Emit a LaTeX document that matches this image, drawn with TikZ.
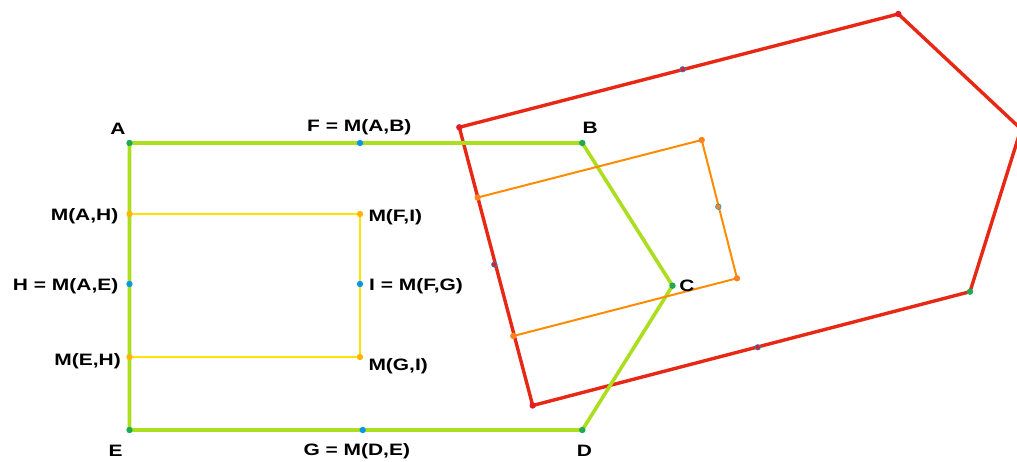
\documentclass[tikz,border=0pt]{standalone}
\usepackage{fontspec}
\newfontfamily\lblfont{Liberation Sans}[FakeStretch=1.27]
\definecolor{polygreen}{RGB}{172,222,32}
\definecolor{polyred}{RGB}{230,40,20}
\definecolor{rectyellow}{RGB}{255,228,0}
\definecolor{rectorange}{RGB}{255,140,0}
\definecolor{dotgreen}{RGB}{30,170,80}
\definecolor{dotblue}{RGB}{10,150,230}
\definecolor{dotgold}{RGB}{255,180,0}
\definecolor{dotorange}{RGB}{255,130,30}
\definecolor{dotred}{RGB}{225,30,40}
\begin{document}
\begin{tikzpicture}[x=1pt,y=-1pt,
  greenline/.style={draw=polygreen,line width=3.6pt,line join=round},
  redline/.style={draw=polyred,line width=3.4pt,line join=round},
  yellowline/.style={draw=rectyellow,line width=2.2pt},
  orangeline/.style={draw=rectorange,line width=2pt},
  dotg/.style={fill=dotgreen},
  dotb/.style={fill=dotblue},
  doty/.style={fill=dotgold},
  doto/.style={fill=dotorange},
  dotr/.style={fill=dotred},
  dotrb/.style={fill=dotred,draw=dotblue,line width=0.6pt},
  dotob/.style={fill=dotorange,draw=dotblue,line width=0.6pt},
  lbl/.style={inner sep=0pt,font=\lblfont\bfseries\fontsize{16.5}{18}\selectfont,text=black}]
\useasboundingbox (0,0) rectangle (1017,462);
\clip (0,0) rectangle (1017,462);
% green polygon
\coordinate (A) at (129.5,143);
\coordinate (B) at (582.3,143);
\coordinate (C) at (672.5,285.7);
\coordinate (D) at (582.3,430);
\coordinate (E) at (129.5,430);
\coordinate (F) at (360,143);
\coordinate (G) at (362.7,430);
\coordinate (H) at (129.5,284);
\coordinate (I) at (360,284);
\coordinate (MAH) at (129.5,214);
\coordinate (MEH) at (129.5,357);
\coordinate (MFI) at (360,214);
\coordinate (MGI) at (360,357);
% red polygon
\coordinate (R1) at (459.3,127.3);
\coordinate (R2) at (898.3,14);
\coordinate (R3) at (1021,129);
\coordinate (R4) at (970,291.7);
\coordinate (R5) at (532.7,405.5);
\coordinate (RM1) at (682.7,69.3);
\coordinate (RM2) at (494.3,264.5);
\coordinate (RM3) at (757.7,347.3);
% orange rectangle
\coordinate (O1) at (477.7,197.5);
\coordinate (O2) at (701.7,140);
\coordinate (O3) at (737,278.3);
\coordinate (O4) at (513.3,336);
\coordinate (OM) at (718.3,206.7);

\draw[redline] (R1) -- (R2) -- (R3) -- (R4) -- (R5) -- cycle;
\draw[greenline] (A) -- (B) -- (C) -- (D) -- (E) -- cycle;
\draw[yellowline] (MAH) -- (MFI) -- (MGI) -- (MEH);
\draw[orangeline] (O1) -- (O2) -- (O3) -- (O4);

% dots
\foreach \p in {A,B,C,D,E,R4} \fill[dotg] (\p) circle (3.2pt);
\foreach \p in {F,G,H,I} \fill[dotb] (\p) circle (3.2pt);
\foreach \p in {MAH,MEH,MFI,MGI} \fill[doty] (\p) circle (3.2pt);
\foreach \p in {O1,O2,O3,O4} \fill[doto] (\p) circle (3.2pt);
\foreach \p in {R1,R2,R5} \fill[dotr] (\p) circle (3.2pt);
\foreach \p in {RM1,RM2,RM3} \filldraw[dotrb] (\p) circle (2.8pt);
\filldraw[dotob] (OM) circle (2.8pt);

% labels
\node[lbl,anchor=base] (lA) at (118,135) {A};
\node[lbl,anchor=base west] (lF) at (307,131.7) {F = M(A,B)};
\node[lbl,anchor=base] (lB) at (590.3,133.3) {B};
\node[lbl,anchor=base] (lC) at (687,291.7) {C};
\node[lbl,anchor=base] (lD) at (584.5,456.5) {D};
\node[lbl,anchor=base] (lE) at (115.5,456.7) {E};
\node[lbl,anchor=base west] (lG) at (303.3,455) {G = M(D,E)};
\node[lbl,anchor=base east] (lMAH) at (118.5,220.5) {M(A,H)};
\node[lbl,anchor=base east] (lH) at (118.5,290.7) {H = M(A,E)};
\node[lbl,anchor=base east] (lMEH) at (121,365) {M(E,H)};
\node[lbl,anchor=base west] (lMFI) at (368.3,221.7) {M(F,I)};
\node[lbl,anchor=base west] (lI) at (369,290.7) {I = M(F,G)};
\node[lbl,anchor=base west] (lMGI) at (368.3,370) {M(G,I)};
\end{tikzpicture}
\end{document}
